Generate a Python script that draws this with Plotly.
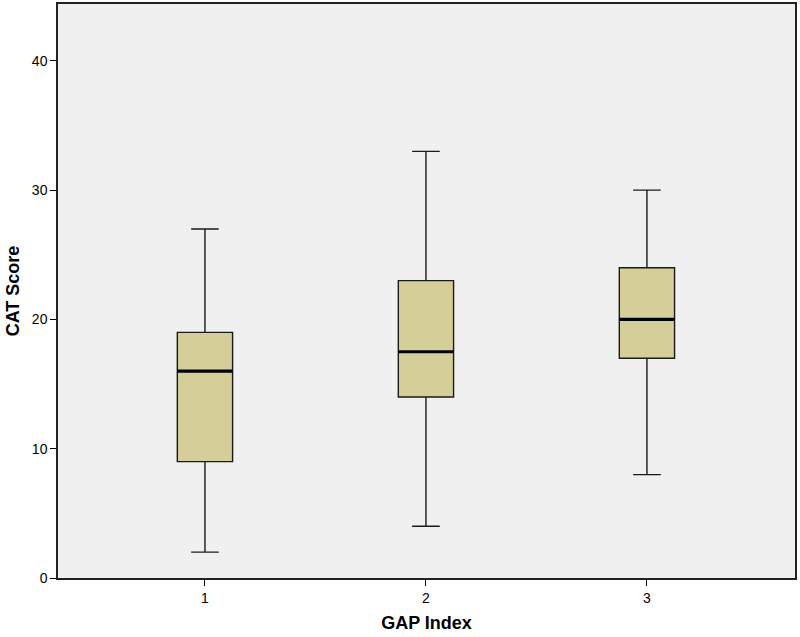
import plotly.graph_objects as go

categories = ["1", "2", "3"]
lower_whisker = [2, 4, 8]
q1 = [9, 14, 17]
median = [16, 17.5, 20]
q3 = [19, 23, 24]
upper_whisker = [27, 33, 30]

xpos = list(range(len(categories)))
box_w = 0.25

fig = go.Figure()
fig.add_trace(go.Box(
    x=xpos, q1=q1, median=median, q3=q3,
    lowerfence=lower_whisker, upperfence=upper_whisker,
    width=box_w, whiskerwidth=0.5,
    fillcolor="#D4CF98", line=dict(color="#1a1a1a", width=1.4),
    boxpoints=False, showlegend=False, hoverinfo="skip",
))
# thick median lines
for xi, m in zip(xpos, median):
    fig.add_trace(go.Scatter(
        x=[xi - box_w / 2, xi + box_w / 2], y=[m, m], mode="lines",
        line=dict(color="black", width=3.2), showlegend=False, hoverinfo="skip",
    ))

fig.update_layout(
    width=800, height=637,
    margin=dict(l=58, r=5, t=4, b=59, autoexpand=False),
    paper_bgcolor="white", plot_bgcolor="#F0F0F0",
    font=dict(family="Liberation Sans, Arial, sans-serif", color="black"),
)
fig.update_xaxes(
    range=[-0.665, 2.67], tickvals=xpos, ticktext=categories,
    ticks="outside", ticklen=6, tickcolor="black", tickfont=dict(size=14),
    showgrid=False, zeroline=False, automargin=False,
    showline=True, linecolor="#222", linewidth=1.5, mirror=True,
    title=dict(text="<b>GAP Index</b>", font=dict(size=18), standoff=12),
)
fig.update_yaxes(
    range=[0, 44.4], tickvals=[0, 10, 20, 30, 40],
    ticks="outside", ticklen=6, tickcolor="black", tickfont=dict(size=14),
    showgrid=False, zeroline=False, automargin=False,
    showline=True, linecolor="#222", linewidth=1.5, mirror=True,
    title=dict(text="<b>CAT Score</b>", font=dict(size=18), standoff=8),
)
fig.write_html("out.html", config={"displayModeBar": False},
               post_script="document.body.style.margin='0';document.body.style.overflow='hidden';")
